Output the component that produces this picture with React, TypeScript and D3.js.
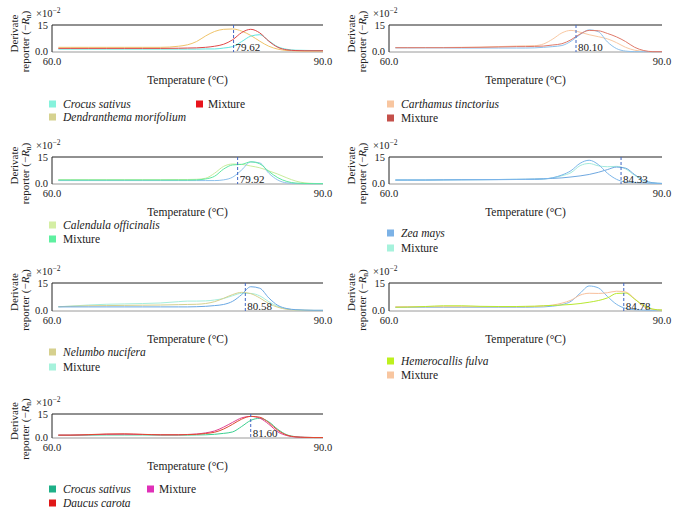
import React from "react";
import * as d3 from "d3";

// Temperature grid (°C) on which every curve was read
const temps = [60.7, 62, 64, 66, 68, 70, 72, 74, 75, 76, 77, 78, 79, 80, 81, 82, 83, 84, 85, 86, 87, 88, 89, 90];

// Panel 1
const p1Crocus = [1.6, 1.6, 1.6, 1.6, 1.6, 1.6, 1.6, 1.6, 1.6, 1.6, 1.7, 1.7, 2.2, 3.0, 5.8, 8.8, 9.6, 6.2, 2.9, 1.5, 1.0, 0.9, 0.8, 0.8];
const p1Dend = [2.6, 2.6, 2.6, 2.6, 2.6, 2.6, 2.6, 3.2, 4.0, 5.8, 8.9, 11.4, 12.6, 12.8, 11.6, 9.2, 6.0, 3.2, 1.6, 0.8, 0.6, 0.5, 0.5, 0.5];
const p1Mix = [2.0, 2.0, 2.0, 2.0, 2.0, 2.0, 2.0, 2.1, 2.2, 2.3, 2.6, 3.2, 4.3, 6.8, 10.8, 12.6, 10.6, 6.0, 2.6, 1.2, 0.8, 0.7, 0.7, 0.7];
// Panel 2
const p2Carth = [2.4, 2.4, 2.5, 2.5, 2.6, 2.7, 3.0, 3.3, 3.4, 3.5, 4.5, 7.2, 10.6, 12.0, 11.0, 9.6, 8.5, 7.3, 5.2, 2.6, 1.0, 0.4, 0.2, 0.2];
const p2Mix = [2.4, 2.4, 2.4, 2.4, 2.5, 2.6, 2.8, 3.0, 3.0, 3.1, 3.3, 3.9, 4.6, 6.8, 10.0, 12.0, 11.8, 10.3, 8.4, 5.8, 2.6, 0.8, 0.2, 0.2];
const p2Ref = [2.3, 2.3, 2.3, 2.3, 2.2, 2.2, 2.2, 2.2, 2.2, 2.3, 2.6, 3.0, 3.6, 6.0, 9.7, 12.3, 11.3, 5.6, 1.9, 0.5, 0.2, 0.2, 0.2, 0.2];
// Panel 3
const p3Cal = [2.4, 2.4, 2.4, 2.4, 2.4, 2.4, 2.4, 2.5, 2.5, 2.6, 3.2, 6.0, 9.8, 11.1, 10.9, 10.0, 9.0, 7.3, 5.5, 3.4, 1.6, 0.6, 0.3, 0.2];
const p3Mix = [2.2, 2.2, 2.2, 2.2, 2.2, 2.2, 2.2, 2.2, 2.2, 2.3, 2.8, 4.3, 8.3, 10.6, 10.9, 12.3, 11.2, 7.0, 3.5, 1.4, 0.5, 0.3, 0.2, 0.2];
const p3Ref = [1.9, 1.9, 1.9, 1.9, 1.9, 1.9, 1.9, 1.9, 1.9, 1.9, 1.9, 1.9, 2.3, 3.8, 7.8, 12.3, 11.7, 6.0, 2.2, 0.6, 0.3, 0.2, 0.2, 0.2];
// Panel 4
const p4Zea = [2.2, 2.2, 2.2, 2.3, 2.4, 2.4, 2.5, 2.6, 2.7, 2.8, 2.9, 3.1, 3.4, 3.9, 4.5, 5.3, 6.5, 8.0, 9.4, 8.8, 5.2, 2.0, 0.7, 0.3];
const p4Mix = [2.2, 2.2, 2.2, 2.3, 2.4, 2.4, 2.5, 2.6, 2.6, 2.7, 2.8, 3.4, 4.6, 6.3, 10.2, 11.4, 10.1, 9.6, 9.8, 8.4, 4.8, 1.9, 0.6, 0.3];
const p4Ref = [2.2, 2.2, 2.2, 2.3, 2.3, 2.4, 2.4, 2.5, 2.5, 2.5, 2.8, 3.5, 5.0, 7.4, 11.5, 13.2, 10.8, 6.0, 2.6, 1.1, 0.8, 0.6, 0.4, 0.3];
// Panel 5
const p5Nel = [2.3, 2.5, 2.8, 2.9, 3.0, 3.1, 3.2, 3.4, 3.5, 3.6, 4.0, 5.0, 6.8, 8.8, 10.0, 9.3, 7.0, 4.0, 2.0, 0.9, 0.5, 0.4, 0.3, 0.3];
const p5Mix = [2.3, 2.6, 3.2, 3.6, 3.8, 4.0, 4.3, 5.0, 5.3, 5.3, 5.4, 5.9, 6.7, 8.2, 9.5, 9.4, 8.1, 5.0, 2.4, 1.1, 0.6, 0.4, 0.3, 0.3];
const p5Ref = [2.2, 2.2, 2.2, 2.2, 2.2, 2.2, 2.2, 2.2, 2.2, 2.3, 2.5, 2.9, 3.5, 5.2, 8.8, 13.0, 12.2, 7.0, 3.0, 1.3, 0.7, 0.5, 0.4, 0.4];
// Panel 6
const p6Hem = [2.0, 2.1, 2.4, 2.8, 2.8, 2.5, 2.4, 2.4, 2.5, 2.6, 2.8, 3.0, 3.2, 3.5, 4.0, 4.7, 5.6, 7.0, 9.4, 9.6, 6.3, 2.9, 1.0, 0.5];
const p6Mix = [2.3, 2.3, 2.3, 2.3, 2.3, 2.3, 2.3, 2.3, 2.3, 2.4, 2.7, 3.2, 4.2, 5.8, 8.5, 9.5, 9.4, 9.8, 10.6, 10.2, 6.6, 2.3, 0.9, 0.5];
const p6Ref = [2.0, 2.0, 2.0, 2.0, 2.0, 2.0, 2.0, 2.0, 2.0, 2.1, 2.2, 2.6, 3.4, 5.2, 9.5, 13.4, 12.4, 7.8, 3.6, 1.4, 0.7, 0.5, 0.4, 0.4];
// Panel 7
const p7Crocus = [1.7, 1.7, 1.8, 1.9, 1.9, 1.9, 1.8, 1.8, 1.8, 1.9, 2.0, 2.3, 2.9, 3.8, 7.2, 11.0, 12.3, 10.1, 5.4, 2.0, 0.8, 0.4, 0.3, 0.3];
const p7Daucus = [1.8, 1.8, 2.1, 2.5, 2.6, 2.3, 2.0, 2.0, 2.1, 2.3, 2.8, 3.6, 5.6, 8.6, 11.8, 13.5, 13.0, 9.6, 4.8, 1.8, 0.7, 0.4, 0.3, 0.3];
const p7Mix = [1.8, 1.8, 2.0, 2.3, 2.4, 2.2, 2.0, 2.0, 2.2, 2.5, 3.2, 4.4, 6.8, 9.8, 12.6, 13.5, 12.4, 8.6, 3.8, 1.5, 0.6, 0.4, 0.3, 0.3];

// Melting-temperature markers: label text and position read on the axis
const markerLabels = ["79.62", "80.10", "79.92", "84.33", "80.58", "84.78", "81.60"];
const markerPos = [80.1, 80.55, 80.55, 85.5, 81.4, 85.8, 82.0];

const xTickValues = [60, 90];
const xTickLabels = ["60.0", "90.0"];
const yTickValues = [0, 15];
const yTickLabels = ["0.0", "15"];

type Series = { values: number[]; color: string };
type Legend = { label: string; color: string; italic: boolean; col: number; row: number };
type Panel = { series: Series[]; legend: Legend[]; col: number; row: number; legendY: number[]; legendCol2X?: number };

const panels: Panel[] = [
  {
    col: 0, row: 0, legendY: [104, 117], legendCol2X: 196,
    series: [
      { values: p1Dend, color: "#f0c46a" },
      { values: p1Crocus, color: "#5fe6e0" },
      { values: p1Mix, color: "#e04848" },
    ],
    legend: [
      { label: "Crocus sativus", color: "#86f2dc", italic: true, col: 0, row: 0 },
      { label: "Dendranthema morifolium", color: "#d6d290", italic: true, col: 0, row: 1 },
      { label: "Mixture", color: "#e8141c", italic: false, col: 1, row: 0 },
    ],
  },
  {
    col: 1, row: 0, legendY: [104, 118],
    series: [
      { values: p2Carth, color: "#f9c8a2" },
      { values: p2Ref, color: "#8cc0ec" },
      { values: p2Mix, color: "#e07a6a" },
    ],
    legend: [
      { label: "Carthamus tinctorius", color: "#f8c6a0", italic: true, col: 0, row: 0 },
      { label: "Mixture", color: "#c4504a", italic: false, col: 0, row: 1 },
    ],
  },
  {
    col: 0, row: 1, legendY: [225, 239],
    series: [
      { values: p3Cal, color: "#c8ec9c" },
      { values: p3Ref, color: "#8cc0ec" },
      { values: p3Mix, color: "#5ee8a0" },
    ],
    legend: [
      { label: "Calendula officinalis", color: "#d4eea4", italic: true, col: 0, row: 0 },
      { label: "Mixture", color: "#5ef0a0", italic: false, col: 0, row: 1 },
    ],
  },
  {
    col: 1, row: 1, legendY: [233, 248],
    series: [
      { values: p4Mix, color: "#a2eadc" },
      { values: p4Zea, color: "#6fa8e0" },
      { values: p4Ref, color: "#7cb6ea" },
    ],
    legend: [
      { label: "Zea mays", color: "#7cb2e6", italic: true, col: 0, row: 0 },
      { label: "Mixture", color: "#a6f2dc", italic: false, col: 0, row: 1 },
    ],
  },
  {
    col: 0, row: 2, legendY: [352, 367],
    series: [
      { values: p5Mix, color: "#a6eedc" },
      { values: p5Nel, color: "#d6d08e" },
      { values: p5Ref, color: "#6aa8e4" },
    ],
    legend: [
      { label: "Nelumbo nucifera", color: "#d6d08e", italic: true, col: 0, row: 0 },
      { label: "Mixture", color: "#a6f2dc", italic: false, col: 0, row: 1 },
    ],
  },
  {
    col: 1, row: 2, legendY: [361, 375],
    series: [
      { values: p6Ref, color: "#7ab6ea" },
      { values: p6Mix, color: "#f8c09c" },
      { values: p6Hem, color: "#b8e830" },
    ],
    legend: [
      { label: "Hemerocallis fulva", color: "#bdf01e", italic: true, col: 0, row: 0 },
      { label: "Mixture", color: "#f8c6a0", italic: false, col: 0, row: 1 },
    ],
  },
  {
    col: 0, row: 3, legendY: [489, 503], legendCol2X: 147,
    series: [
      { values: p7Crocus, color: "#3cd090" },
      { values: p7Mix, color: "#e04090" },
      { values: p7Daucus, color: "#e04a30" },
    ],
    legend: [
      { label: "Crocus sativus", color: "#1eb088", italic: true, col: 0, row: 0 },
      { label: "Daucus carota", color: "#e01818", italic: true, col: 0, row: 1 },
      { label: "Mixture", color: "#e030b8", italic: false, col: 1, row: 0 },
    ],
  },
];

// layout
const colX = [
  { x0: 52, x1: 323, legX: 49 },
  { x0: 389, x1: 662, legX: 387 },
];
const rowY = [
  { top: 25, base: 52 },
  { top: 157, base: 184 },
  { top: 283, base: 311 },
  { top: 414, base: 438 },
];

const FONT = "'Liberation Serif', 'Times New Roman', 'DejaVu Serif', Times, serif";

function PanelView({ p, i }: { p: Panel; i: number }) {
  const { x0, x1, legX } = colX[p.col];
  const { top, base } = rowY[p.row];
  const x = d3.scaleLinear().domain([60, 90]).range([x0, x1]);
  const y = d3.scaleLinear().domain([0, 15]).range([base, top]);
  const line = d3
    .line<number>()
    .x((_, k) => x(temps[k]))
    .y((v) => y(v))
    .curve(d3.curveMonotoneX);
  const mx = x(markerPos[i]);
  const midY = (top + base) / 2;
  return (
    <g>
      {/* frame */}
      <line x1={x0} x2={x1} y1={base} y2={base} stroke="#9a9a9a" strokeWidth={1} />
      <line x1={x0} x2={x1} y1={top} y2={top} stroke="#222" strokeWidth={1} />
      <line x1={x0} x2={x0} y1={top} y2={base} stroke="#222" strokeWidth={1} />
      {/* curves */}
      {p.series.map((s, k) => (
        <path key={k} d={line(s.values) || ""} fill="none" stroke={s.color} strokeWidth={1} />
      ))}
      {/* marker */}
      <line x1={mx} x2={mx} y1={top} y2={base} stroke="#3f66c4" strokeWidth={1} strokeDasharray="3,2" />
      <text x={mx + 2} y={base - 1.5} fontSize={11} fill="#222">{markerLabels[i]}</text>
      {/* y ticks */}
      {yTickValues.map((v, k) => (
        <text key={k} x={x0 - 4} y={y(v) + (v === 0 ? 2.5 : 3.5)} fontSize={10.5} textAnchor="end" fill="#222">
          {yTickLabels[k]}
        </text>
      ))}
      {/* x ticks */}
      {xTickValues.map((v, k) => (
        <text key={k} x={x(v)} y={base + 13} fontSize={10.5} textAnchor="middle" fill="#222">
          {xTickLabels[k]}
        </text>
      ))}
      {/* exponent */}
      <text x={x0 - 16} y={top - 8} fontSize={10.5} fill="#222">
        ×10<tspan dy={-4} fontSize={7.5}>−2</tspan>
      </text>
      {/* y title */}
      <text transform={`translate(${x0 - 34},${midY - 5}) rotate(-90)`} fontSize={11} textAnchor="middle" fill="#222">
        Derivate
      </text>
      <text transform={`translate(${x0 - 23},${midY + 3}) rotate(-90)`} fontSize={11} textAnchor="middle" fill="#222">
        reporter (−<tspan fontStyle="italic">R</tspan><tspan fontSize={7.5} dy={2}>n</tspan><tspan dy={-2}>)</tspan>
      </text>
      {/* x title */}
      <text x={(x0 + x1) / 2} y={base + 32} fontSize={11.5} textAnchor="middle" fill="#222">
        Temperature (°C)
      </text>
      {/* legend */}
      {p.legend.map((l, k) => {
        const lx = l.col === 0 ? legX : (p.legendCol2X as number);
        const ly = p.legendY[l.row];
        return (
          <g key={k}>
            <rect x={lx} y={ly - 3.5} width={7} height={7} fill={l.color} />
            <text x={lx + (l.col === 0 ? 14 : 12)} y={ly + 4} fontSize={11.5} fontStyle={l.italic ? "italic" : "normal"} fill="#222">
              {l.label}
            </text>
          </g>
        );
      })}
    </g>
  );
}

export default function App() {
  return (
    <svg width={678} height={513} style={{ position: "absolute", left: 0, top: 0, background: "#fff", fontFamily: FONT }}>
      <rect width={678} height={513} fill="#fff" />
      <g style={{ fontFamily: FONT }}>
        {panels.map((p, i) => (
          <PanelView key={i} p={p} i={i} />
        ))}
      </g>
    </svg>
  );
}
